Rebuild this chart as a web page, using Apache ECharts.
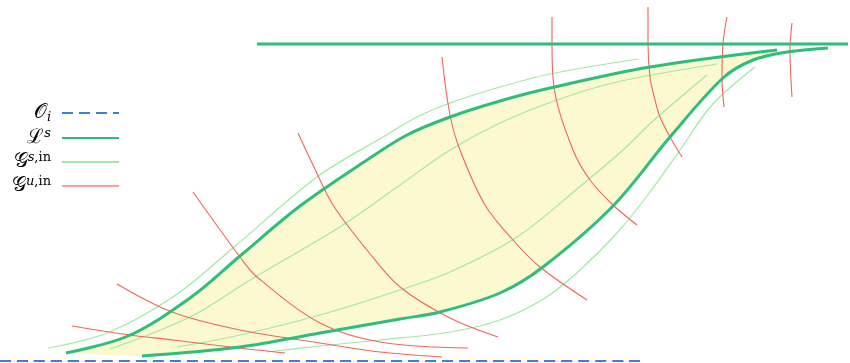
<!DOCTYPE html>
<html>
<head>
<meta charset="utf-8">
<script src="https://cdn.jsdelivr.net/npm/echarts@6/dist/echarts.min.js"></script>
<style>
  html, body { margin: 0; padding: 0; background: #fff; }
  #chart { width: 850px; height: 363px; }
</style>
</head>
<body>
<div id="chart"></div>
<script>
  // points are [x, y] in the diagram's own units (y grows downward)
  const orbitO = [[0, 361], [645, 361]]
  const leafTop = [[257, 44], [848, 44]]
  const lsUpper = [[66, 353], [128, 336], [190, 298], [240, 256], [300, 206], [367, 160], [407, 135],
    [450, 117], [500, 101], [550, 88], [650, 67], [777, 50]]
  const lsLower = [[142, 356], [240, 347], [320, 333], [400, 319], [440, 312], [500, 293], [543, 267],
    [613, 206], [670, 137], [723, 78], [753, 60], [787, 52], [828, 48]]
  const gsCurves = [
    [[48, 348], [107, 333], [173, 297], [233, 248], [317, 177], [383, 137], [417, 117], [450, 103], [500, 87], [550, 74], [638, 59]],
    [[110, 349], [190, 317], [250, 280], [343, 225], [400, 185], [450, 150], [500, 123], [557, 100], [617, 82], [717, 64]],
    [[177, 347], [240, 335], [320, 315], [400, 290], [450, 272], [517, 237], [583, 184], [623, 150], [653, 121], [707, 75]],
    [[267, 352], [320, 346], [380, 340], [450, 332], [500, 320], [545, 298], [580, 270], [617, 233], [647, 196], [680, 150], [712, 105], [755, 67]]
  ]
  const guCurves = [
    [[72, 326], [130, 335], [173, 340], [230, 347], [285, 353]],
    [[117, 284], [172, 312], [240, 330], [320, 343], [380, 352], [442, 357]],
    [[193, 192], [240, 257], [257, 277], [320, 323], [380, 342], [468, 348]],
    [[298, 133], [313, 165], [333, 205], [367, 250], [400, 287], [450, 318], [498, 337]],
    [[442, 57], [450, 115], [460, 150], [485, 205], [513, 240], [540, 267], [587, 300]],
    [[552, 17], [552, 43], [554, 87], [573, 150], [590, 180], [613, 205], [637, 225]],
    [[648, 7], [648, 43], [650, 77], [655, 100], [660, 117], [670, 137], [682, 157]],
    [[727, 17], [723, 43], [722, 78], [724, 107]],
    [[792, 23], [790, 50], [792, 97]]
  ]
  const legendLabels = {
    O: '{m|𝒪}{subi|i}',
    L: '{m|ℒ}{supi|s}',
    Gs: '{m|𝒢}{supi|s}{sup|,in}',
    Gu: '{m|𝒢}{supi|u}{sup|,in}'
  }

  const green = '#2dbe7b'
  const lightGreen = '#9fe9a0'
  const red = '#f0655a'
  const blue = '#3a80d8'
  const smooth = 0.34

  let myChart = echarts.init(document.getElementById('chart'))

  function curve (name, data, lineStyle, z) {
    return {
      name: name,
      type: 'line',
      data: data,
      smooth: smooth,
      symbol: 'none',
      silent: true,
      z: z,
      itemStyle: {color: lineStyle.color},
      lineStyle: lineStyle
    }
  }

  let series = []
  // yellow region between the two branches
  series.push({
    type: 'line', data: lsUpper, smooth: smooth, symbol: 'none', silent: true, z: 1,
    lineStyle: {width: 0},
    areaStyle: {color: '#fcf9d1', opacity: 1, origin: 'end'}
  })
  series.push({
    type: 'line', data: [lsUpper[0]].concat(lsLower), smooth: smooth, symbol: 'none', silent: true, z: 2,
    lineStyle: {width: 0},
    areaStyle: {color: '#ffffff', opacity: 1, origin: 'end'}
  })
  series.push(curve('O', orbitO, {color: blue, width: 2.2, type: [11, 6]}, 6))
  series.push(curve('L', leafTop, {color: green, width: 3}, 5))
  series.push(curve('L', lsUpper, {color: green, width: 3}, 5))
  series.push(curve('L', lsLower, {color: green, width: 3}, 5))
  gsCurves.forEach(item => {
    series.push(curve('Gs', item, {color: lightGreen, width: 1.2}, 3))
  })
  guCurves.forEach(item => {
    series.push(curve('Gu', item, {color: red, width: 1.1}, 4))
  })

  let option = {
    animation: false,
    grid: {left: 0, right: 0, top: 0, bottom: 0},
    xAxis: {type: 'value', min: 0, max: 850, show: false},
    yAxis: {type: 'value', min: 0, max: 363, inverse: true, show: false},
    legend: {
      data: [
        {name: 'O'},
        {name: 'L'},
        {name: 'Gs'},
        {name: 'Gu', lineStyle: {color: '#f5a39c'}}
      ],
      orient: 'vertical',
      align: 'right',
      left: 12,
      top: 103,
      padding: 0,
      itemWidth: 57,
      itemHeight: 14,
      itemGap: 3,
      selectedMode: false,
      itemStyle: {opacity: 0},
      formatter: name => legendLabels[name],
      textStyle: {
        color: '#000',
        padding: [0, 6, 0, 0],
        rich: {
          m: {fontFamily: 'DejaVu Serif', fontSize: 20, lineHeight: 22, color: '#000'},
          subi: {fontFamily: 'DejaVu Serif', fontStyle: 'italic', fontSize: 13, lineHeight: 22, verticalAlign: 'bottom', color: '#000'},
          supi: {fontFamily: 'DejaVu Serif', fontStyle: 'italic', fontSize: 13, lineHeight: 22, verticalAlign: 'top', color: '#000'},
          sup: {fontFamily: 'DejaVu Serif', fontSize: 13, lineHeight: 22, verticalAlign: 'top', color: '#000'}
        }
      }
    },
    series: series
  }
  myChart.setOption(option)
</script>
</body>
</html>
